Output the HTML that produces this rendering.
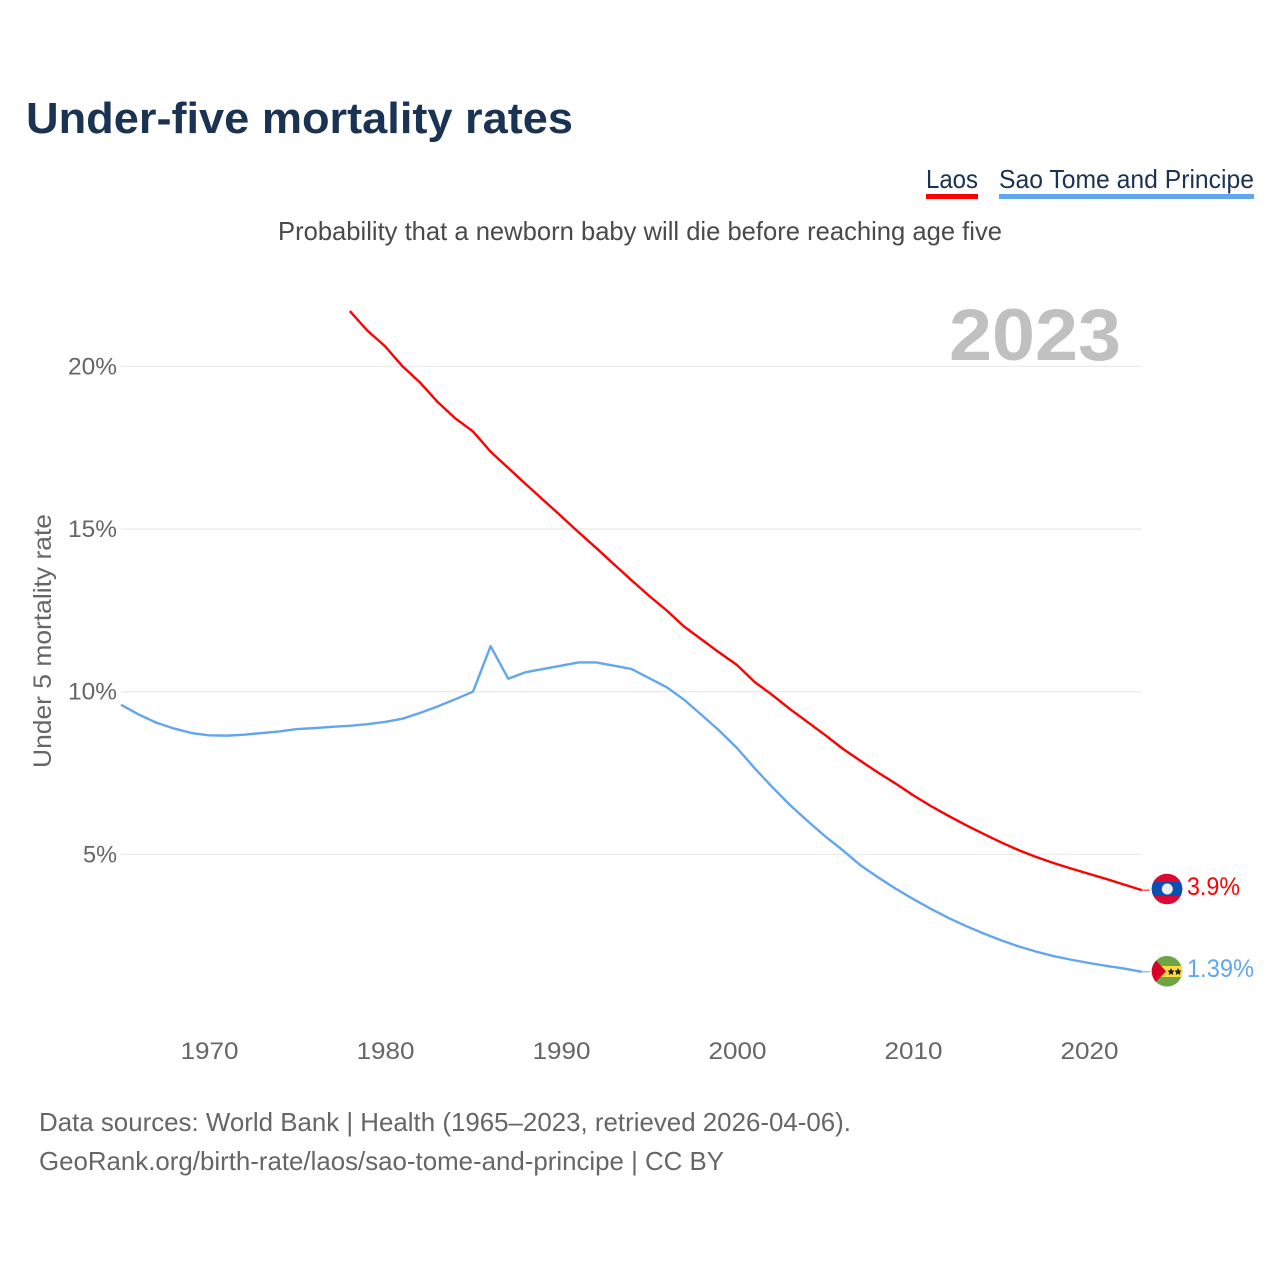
<!DOCTYPE html>
<html lang="en">
<head>
<meta charset="utf-8">
<title>Under-five mortality rates</title>
<style>
html,body{margin:0;padding:0;background:#fff;width:1280px;height:1280px;overflow:hidden}
svg{display:block}
text{font-family:"Liberation Sans",sans-serif}
</style>
</head>
<body>
<svg id="chart" xmlns="http://www.w3.org/2000/svg" width="1280" height="1280" viewBox="0 0 1280 1280">
  <text x="26" y="133" font-size="44" font-weight="700" fill="#1a3352" textLength="547" lengthAdjust="spacingAndGlyphs">Under-five mortality rates</text>
  <g>
    <text x="926" y="188" font-size="26" fill="#1a3352" textLength="52" lengthAdjust="spacingAndGlyphs">Laos</text>
    <rect x="926" y="194" width="52" height="5" fill="#ff0000"/>
  </g>
  <g>
    <text x="999" y="188" font-size="26" fill="#1a3352" textLength="255" lengthAdjust="spacingAndGlyphs">Sao Tome and Principe</text>
    <rect x="999" y="194" width="255" height="5" fill="#62a6ee"/>
  </g>
  <text x="278" y="240" font-size="26" fill="#4a4a4a" textLength="724" lengthAdjust="spacingAndGlyphs">Probability that a newborn baby will die before reaching age five</text>
  <text x="949" y="360" font-size="73" font-weight="700" fill="#c0c0c0" textLength="172" lengthAdjust="spacingAndGlyphs">2023</text>
  <text transform="translate(51,768) rotate(-90)" x="0" y="0" font-size="25" fill="#666666" textLength="254" lengthAdjust="spacingAndGlyphs">Under 5 mortality rate</text>
  <g id="gridlines"></g>
  <g id="y-ticks"></g>
  <g id="x-ticks"></g>
  <g id="series"></g>
  <g>
    <clipPath id="clip-laos"><circle cx="1167" cy="889" r="15.3"/></clipPath>
    <g clip-path="url(#clip-laos)">
      <rect x="1151" y="873" width="32" height="32" fill="#dc0a32"/>
      <rect x="1151" y="882" width="32" height="14" fill="#0a50b4"/>
      <circle cx="1167.3" cy="889" r="5.5" fill="#eeeeee"/>
    </g>
  </g>
  <g>
    <clipPath id="clip-stp"><circle cx="1167" cy="971.3" r="15.3"/></clipPath>
    <g clip-path="url(#clip-stp)">
      <rect x="1151" y="955" width="32" height="32" fill="#6da544"/>
      <rect x="1151" y="966" width="32" height="11" fill="#ffda44"/>
      <polygon points="1151,955 1166,971.3 1151,987" fill="#d80027"/>
      <polygon points="1171,968 1172.2,970.4 1174.5,970.8 1172.8,972.5 1173.2,975 1171,973.8 1168.8,975 1169.2,972.5 1167.5,970.8 1169.8,970.4" fill="#222"/>
      <polygon points="1178,968 1179.2,970.4 1181.5,970.8 1179.8,972.5 1180.2,975 1178,973.8 1175.8,975 1176.2,972.5 1174.5,970.8 1176.8,970.4" fill="#222"/>
    </g>
  </g>
  <text id="end-label-laos" x="1187" y="895" font-size="25" fill="#ff0000" textLength="53" lengthAdjust="spacingAndGlyphs"></text>
  <text id="end-label-stp" x="1187" y="977" font-size="25" fill="#62a6ee" textLength="67" lengthAdjust="spacingAndGlyphs"></text>
  <text x="39" y="1131" font-size="26" fill="#666666" textLength="812" lengthAdjust="spacingAndGlyphs">Data sources: World Bank | Health (1965–2023, retrieved 2026-04-06).</text>
  <text x="39" y="1170" font-size="26" fill="#666666" textLength="685" lengthAdjust="spacingAndGlyphs">GeoRank.org/birth-rate/laos/sao-tome-and-principe | CC BY</text>
</svg>
<script>
const laosStartYear = 1978;
const laosValues = [21.7,21.1,20.62,20.0,19.5,18.9,18.4,18.0,17.38,16.88,16.38,15.89,15.4,14.9,14.42,13.92,13.43,12.95,12.5,12.0,11.6,11.2,10.82,10.3,9.9,9.47,9.07,8.67,8.25,7.88,7.52,7.18,6.82,6.49,6.19,5.9,5.63,5.37,5.13,4.92,4.73,4.56,4.4,4.24,4.07,3.9];
const stpStartYear = 1965;
const stpValues = [9.6,9.3,9.05,8.87,8.73,8.66,8.65,8.68,8.73,8.78,8.85,8.88,8.92,8.95,9.0,9.07,9.17,9.35,9.55,9.77,10.0,11.4,10.4,10.6,10.7,10.8,10.9,10.9,10.8,10.7,10.42,10.14,9.75,9.28,8.8,8.27,7.65,7.07,6.52,6.03,5.56,5.13,4.67,4.3,3.95,3.63,3.33,3.05,2.8,2.57,2.36,2.17,2.01,1.87,1.76,1.66,1.57,1.49,1.39];
const yTickValues = [5,10,15,20];
const xTickYears = [1970,1980,1990,2000,2010,2020];
const laosEndLabel = '3.9%';
const stpEndLabel = '1.39%';

const SVG_NS = 'http://www.w3.org/2000/svg';
function xScale(year){ return 209 + (year - 1970) * 17.6; }
function yScale(v){ return 1017 - v * 32.53; }
function make(tag, attrs, parent){
  const el = document.createElementNS(SVG_NS, tag);
  for (const k in attrs) el.setAttribute(k, attrs[k]);
  parent.appendChild(el);
  return el;
}
const gridG = document.getElementById('gridlines');
const yG = document.getElementById('y-ticks');
const xG = document.getElementById('x-ticks');
const seriesG = document.getElementById('series');

yTickValues.forEach(function(v){
  const line = make('line', {x1:121, x2:1142, y1:yScale(v), y2:yScale(v), stroke:'#ececec', 'stroke-width':1.3}, gridG);
  
  
  const t = make('text', {x:117, y:yScale(v)+8, 'text-anchor':'end', 'font-size':24, fill:'#666666', textLength: v < 10 ? 34 : 49, lengthAdjust:'spacingAndGlyphs'}, yG);
  
  
  t.textContent = v + '%';
});
xTickYears.forEach(function(y){
  const t = make('text', {x:xScale(y)-28.5, y:1059, 'font-size':24, fill:'#666666', textLength:58, lengthAdjust:'spacingAndGlyphs'}, xG);
  
  
  t.textContent = y;
});
function drawSeries(values, startYear, color, name){
  const pts = values.map(function(v, i){ return xScale(startYear + i).toFixed(2) + ',' + yScale(v).toFixed(2); });
  const p = make('polyline', {points:pts.join(' '), fill:'none', stroke:color, 'stroke-width':2.4, 'stroke-linejoin':'round'}, seriesG);
  
  
  const lastY = yScale(values[values.length - 1]);
  const lastX = xScale(startYear + values.length - 1);
  const c = make('line', {x1:lastX, x2:lastX + 8, y1:lastY, y2:lastY, stroke:color, 'stroke-width':1}, seriesG);
  
  
}
drawSeries(laosValues, laosStartYear, '#ff0000', 'line-laos');
drawSeries(stpValues, stpStartYear, '#62a6ee', 'line-sao-tome');
document.getElementById('end-label-laos').textContent = laosEndLabel;
document.getElementById('end-label-stp').textContent = stpEndLabel;
</script>
</body>
</html>
